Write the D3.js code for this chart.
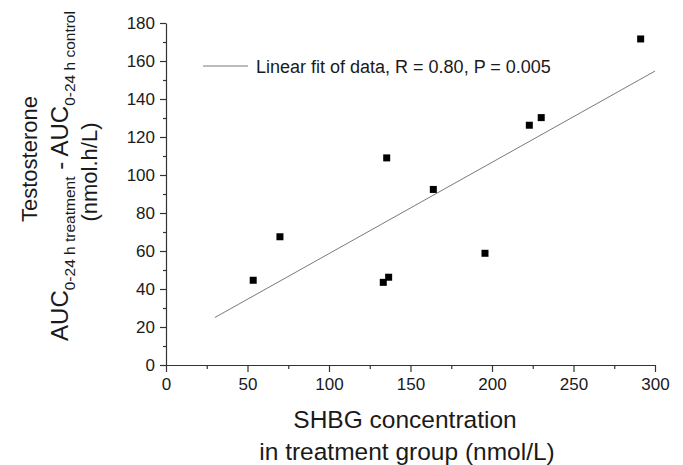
<!DOCTYPE html>
<html>
<head>
<meta charset="utf-8">
<script src="https://cdn.jsdelivr.net/npm/d3@7"></script>
<style>
  body { margin: 0; background: #fff; }
  svg text { font-family: "Liberation Sans", Arial, Helvetica, sans-serif; fill: #1a1a1a; }
</style>
</head>
<body>
<div id="chart"></div>
<script>
// SHBG (x) vs testosterone AUC difference (y)
const shbg  = [53.5, 69.9, 133.3, 135.4, 136.6, 164.0, 195.7, 222.9, 230.2, 291.2];
const testo = [44.6, 67.5, 43.5, 109.0, 46.2, 92.4, 58.8, 126.2, 130.2, 171.6];

// linear fit end points
const fitX = [30, 300];
const fitY = [25.0, 154.7];

const xTicks = [0, 50, 100, 150, 200, 250, 300];
const yTicks = [0, 20, 40, 60, 80, 100, 120, 140, 160, 180];
const legendLabel = "Linear fit of data, R = 0.80, P = 0.005";

const width = 683, height = 465;
const margin = {top: 23, right: 28, bottom: 100, left: 166};

const svg = d3.select("#chart").append("svg")
    .attr("width", width)
    .attr("height", height);

const x = d3.scaleLinear().domain([0, 300]).range([margin.left, 655]);
const y = d3.scaleLinear().domain([0, 180]).range([365, margin.top]);

// minor ticks first
svg.append("g")
    .attr("transform", "translate(0," + y(0) + ")")
    .call(d3.axisBottom(x).tickValues(d3.range(25, 300, 50)).tickSize(4).tickFormat(""))
    .call(g => g.select(".domain").remove());

svg.append("g")
    .attr("transform", "translate(" + x(0) + ",0)")
    .call(d3.axisLeft(y).tickValues(d3.range(10, 180, 20)).tickSize(3).tickFormat(""))
    .call(g => g.select(".domain").remove());

// major axes
svg.append("g")
    .attr("transform", "translate(0," + y(0) + ")")
    .call(d3.axisBottom(x).tickValues(xTicks).tickSize(7).tickSizeOuter(0).tickPadding(6));

svg.append("g")
    .attr("transform", "translate(" + x(0) + ",0)")
    .call(d3.axisLeft(y).tickValues(yTicks).tickSize(6).tickSizeOuter(0).tickPadding(5));

svg.selectAll(".tick line, .domain")
    .attr("stroke", "#333")
    .attr("stroke-width", 1.2);
svg.selectAll(".tick text")
    .attr("font-size", 17)
    .attr("fill", "#1a1a1a")
    .style("font-family", "'Liberation Sans', Arial, sans-serif");

// fit line
svg.append("line")
    .attr("x1", x(fitX[0])).attr("y1", y(fitY[0]))
    .attr("x2", x(fitX[1])).attr("y2", y(fitY[1]))
    .attr("stroke", "#7a7a7a")
    .attr("stroke-width", 1);

// points
svg.selectAll("rect.pt")
    .data(shbg.map((d, i) => [d, testo[i]]))
    .enter().append("rect")
    .attr("class", "pt")
    .attr("x", d => x(d[0]) - 3.5)
    .attr("y", d => y(d[1]) - 3.5)
    .attr("width", 7)
    .attr("height", 7)
    .attr("fill", "#000");

// legend
svg.append("line")
    .attr("x1", 203).attr("x2", 248)
    .attr("y1", 66).attr("y2", 66)
    .attr("stroke", "#7a7a7a")
    .attr("stroke-width", 1);
svg.append("text")
    .attr("x", 256).attr("y", 73)
    .attr("font-size", 18)
    .text(legendLabel);

// x title
const xt = svg.append("text")
    .attr("text-anchor", "middle")
    .attr("font-size", 24.5);
xt.append("tspan").attr("x", 405).attr("y", 428).text("SHBG concentration");
xt.append("tspan").attr("x", 407).attr("y", 460).text("in treatment group (nmol/L)");

// y title, three rotated lines
svg.append("text")
    .attr("transform", "translate(37,159) rotate(-90)")
    .attr("text-anchor", "middle")
    .attr("font-size", 22)
    .text("Testosterone");

const yt = svg.append("text")
    .attr("transform", "translate(68,176) rotate(-90)")
    .attr("text-anchor", "middle")
    .attr("font-size", 24);
yt.append("tspan").text("AUC");
yt.append("tspan").attr("font-size", 15.5).attr("dy", 7).text("0-24 h treatment");
yt.append("tspan").attr("dy", -7).text(" - AUC");
yt.append("tspan").attr("font-size", 15.5).attr("dy", 7).text("0-24 h control");

svg.append("text")
    .attr("transform", "translate(97,172) rotate(-90)")
    .attr("text-anchor", "middle")
    .attr("font-size", 22)
    .text("(nmol.h/L)");
</script>
</body>
</html>
